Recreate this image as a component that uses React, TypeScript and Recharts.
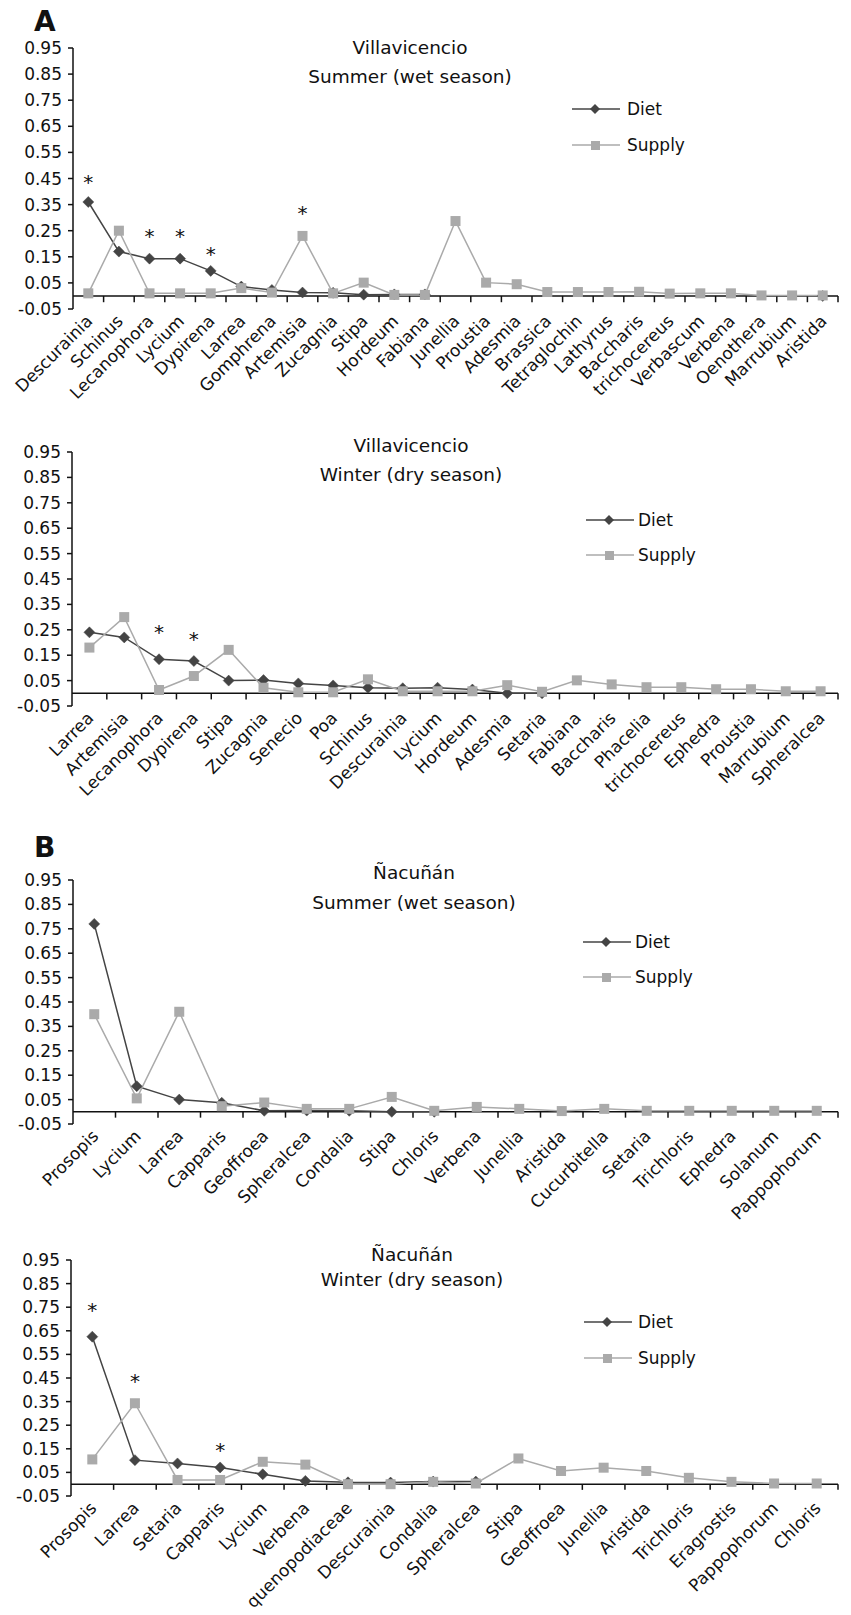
import React from 'react';
import { LineChart, Line, XAxis, YAxis, ReferenceLine, Legend } from 'recharts';

const FONT = '"DejaVu Sans", sans-serif';
const DIET_COLOR = '#444444';
const SUPPLY_COLOR = '#aaaaaa';
const INK = '#111111';

const Y_TICKS = [-0.05, 0.05, 0.15, 0.25, 0.35, 0.45, 0.55, 0.65, 0.75, 0.85, 0.95];

// ---------- Panel A, summer ----------
const A_SUM_SITE = 'Villavicencio';
const A_SUM_SEASON = 'Summer (wet season)';
const A_SUM_CATS = ['Descurainia', 'Schinus', 'Lecanophora', 'Lycium', 'Dypirena', 'Larrea', 'Gomphrena', 'Artemisia', 'Zucagnia', 'Stipa', 'Hordeum', 'Fabiana', 'Junellia', 'Proustia', 'Adesmia', 'Brassica', 'Tetraglochin', 'Lathyrus', 'Baccharis', 'trichocereus', 'Verbascum', 'Verbena', 'Oenothera', 'Marrubium', 'Aristida'];
const A_SUM_DIET = [0.36, 0.17, 0.143, 0.143, 0.096, 0.036, 0.023, 0.013, 0.012, 0.005, 0.006, 0.006, null, null, null, null, null, null, null, null, null, null, null, null, 0.0];
const A_SUM_SUPPLY = [0.01, 0.25, 0.01, 0.01, 0.01, 0.03, 0.013, 0.23, 0.01, 0.051, 0.004, 0.004, 0.287, 0.051, 0.045, 0.015, 0.015, 0.015, 0.016, 0.009, 0.01, 0.01, 0.002, 0.002, 0.002];
const A_SUM_STAR_CATS = ['Descurainia', 'Lecanophora', 'Lycium', 'Dypirena', 'Artemisia'];
const A_SUM_STAR_LEVELS = [0.452, 0.245, 0.245, 0.176, 0.333];

// ---------- Panel A, winter ----------
const A_WIN_SITE = 'Villavicencio';
const A_WIN_SEASON = 'Winter (dry season)';
const A_WIN_CATS = ['Larrea', 'Artemisia', 'Lecanophora', 'Dypirena', 'Stipa', 'Zucagnia', 'Senecio', 'Poa', 'Schinus', 'Descurainia', 'Lycium', 'Hordeum', 'Adesmia', 'Setaria', 'Fabiana', 'Baccharis', 'Phacelia', 'trichocereus', 'Ephedra', 'Proustia', 'Marrubium', 'Spheralcea'];
const A_WIN_DIET = [0.24, 0.22, 0.134, 0.127, 0.05, 0.052, 0.039, 0.031, 0.022, 0.02, 0.022, 0.015, 0.0, 0.0, null, null, null, null, null, null, null, null];
const A_WIN_SUPPLY = [0.18, 0.3, 0.013, 0.068, 0.171, 0.022, 0.004, 0.004, 0.055, 0.008, 0.008, 0.008, 0.032, 0.006, 0.051, 0.035, 0.024, 0.024, 0.016, 0.016, 0.008, 0.008];
const A_WIN_STAR_CATS = ['Lecanophora', 'Dypirena'];
const A_WIN_STAR_LEVELS = [0.257, 0.23];

// ---------- Panel B, summer ----------
const B_SUM_SITE = 'Ñacuñán';
const B_SUM_SEASON = 'Summer (wet season)';
const B_SUM_CATS = ['Prosopis', 'Lycium', 'Larrea', 'Capparis', 'Geoffroea', 'Spheralcea', 'Condalia', 'Stipa', 'Chloris', 'Verbena', 'Junellia', 'Aristida', 'Cucurbitella', 'Setaria', 'Trichloris', 'Ephedra', 'Solanum', 'Pappophorum'];
const B_SUM_DIET = [0.77, 0.105, 0.05, 0.037, 0.004, 0.005, 0.004, 0.0, 0.0, null, null, null, null, null, null, null, null, null];
const B_SUM_SUPPLY = [0.4, 0.055, 0.41, 0.023, 0.038, 0.012, 0.012, 0.061, 0.004, 0.02, 0.012, 0.003, 0.012, 0.004, 0.004, 0.004, 0.004, 0.004];
const B_SUM_STAR_CATS: string[] = [];
const B_SUM_STAR_LEVELS: number[] = [];

// ---------- Panel B, winter ----------
const B_WIN_SITE = 'Ñacuñán';
const B_WIN_SEASON = 'Winter (dry season)';
const B_WIN_CATS = ['Prosopis', 'Larrea', 'Setaria', 'Capparis', 'Lycium', 'Verbena', 'quenopodiaceae', 'Descurainia', 'Condalia', 'Spheralcea', 'Stipa', 'Geoffroea', 'Junellia', 'Aristida', 'Trichloris', 'Eragrostis', 'Pappophorum', 'Chloris'];
const B_WIN_DIET = [0.625, 0.102, 0.088, 0.071, 0.042, 0.014, 0.008, 0.007, 0.011, 0.011, null, null, null, null, null, null, null, null];
const B_WIN_SUPPLY = [0.105, 0.343, 0.018, 0.018, 0.095, 0.083, 0.0, 0.0, 0.01, 0.003, 0.109, 0.056, 0.07, 0.056, 0.027, 0.01, 0.003, 0.003];
const B_WIN_STAR_CATS = ['Prosopis', 'Larrea', 'Capparis'];
const B_WIN_STAR_LEVELS = [0.755, 0.455, 0.162];

type Row = { pos: number; name: string; diet: number | null; supply: number | null; star: number | null };

function buildRows(cats: string[], diet: (number | null)[], supply: (number | null)[], starCats: string[], starLevels: number[]): Row[] {
  return cats.map((name, i) => {
    const si = starCats.indexOf(name);
    return { pos: i + 0.5, name, diet: diet[i], supply: supply[i], star: si >= 0 ? starLevels[si] : null };
  });
}

type Layout = {
  top: number; height: number; plotTop: number; plotBottom: number; plotLeft: number; plotRight: number;
  legendX: number; legendTextX: number; dietY: number; supplyY: number;
  titleX: number; title1Y: number; title2Y: number; letter?: string; letterY?: number;
};

const DietDot = (props: any) => {
  const { cx, cy, value, index } = props;
  if (value == null || cy == null || isNaN(cy)) return <g key={`d${index}`} />;
  const r = 5.5;
  return <polygon key={`d${index}`} points={`${cx},${cy - r} ${cx + r},${cy} ${cx},${cy + r} ${cx - r},${cy}`} fill={DIET_COLOR} stroke={DIET_COLOR} strokeWidth={0.5} />;
};

const SupplyDot = (props: any) => {
  const { cx, cy, value, index } = props;
  if (value == null || cy == null || isNaN(cy)) return <g key={`s${index}`} />;
  const h = 5;
  return <rect key={`s${index}`} x={cx - h} y={cy - h} width={2 * h} height={2 * h} fill={SUPPLY_COLOR} />;
};

const StarDot = (props: any) => {
  const { cx, cy, value, index } = props;
  if (value == null || cy == null || isNaN(cy)) return <g key={`t${index}`} />;
  return (
    <text key={`t${index}`} x={cx} y={cy + 11} textAnchor="middle" fontSize={20} fontFamily={FONT} fill={INK}>*</text>
  );
};

function makeTick(cats: string[]) {
  return (props: any) => {
    const { x, y, payload } = props;
    const name = cats[Math.floor(payload.value)];
    const ax = x + 1;
    const ay = y + 9;
    return (
      <text x={ax} y={ay} dy="0.35em" textAnchor="end" transform={`rotate(-45, ${ax}, ${ay})`} fontSize={17} fontFamily={FONT} fill={INK}>
        {name}
      </text>
    );
  };
}

function makeLegend(L: Layout) {
  const gap = L.supplyY - L.dietY;
  const tx = L.legendTextX - L.legendX;
  return () => (
    <svg width={140} height={gap + 30} style={{ overflow: 'visible' }}>
      <line x1={0} y1={15} x2={48} y2={15} stroke={DIET_COLOR} strokeWidth={1.5} />
      <polygon points={`23,10 28,15 23,20 18,15`} fill={DIET_COLOR} />
      <text x={tx} y={15} dy="0.36em" fontSize={17} fontFamily={FONT} fill={INK}>Diet</text>
      <line x1={0} y1={15 + gap} x2={48} y2={15 + gap} stroke={SUPPLY_COLOR} strokeWidth={1.5} />
      <rect x={19} y={11 + gap} width={9} height={9} fill={SUPPLY_COLOR} />
      <text x={tx} y={15 + gap} dy="0.36em" fontSize={17} fontFamily={FONT} fill={INK}>Supply</text>
    </svg>
  );
}

const X_AXIS_H = 80;
const TICK_LEN = 0.024;

function Panel({ L, cats, rows, site, season }: { L: Layout; cats: string[]; rows: Row[]; site: string; season: string }) {
  const n = cats.length;
  const bounds = Array.from({ length: n }, (_, k) => k + 1);
  const plotBottomLocal = L.plotBottom - L.top;
  const margin = {
    top: L.plotTop - L.top,
    bottom: L.height - plotBottomLocal - X_AXIS_H,
    left: L.plotLeft - 60,
    right: 851 - L.plotRight,
  };
  const titleStyle: React.CSSProperties = {
    position: 'absolute', left: L.titleX, transform: 'translate(-50%, -50%)', fontFamily: FONT, fontSize: 18.5,
    lineHeight: 1, whiteSpace: 'nowrap', color: INK,
  };
  return (
    <>
      <div style={{ position: 'absolute', left: 0, top: L.top, width: 851, height: L.height }}>
        <LineChart width={851} height={L.height} data={rows} margin={margin} style={{ overflow: 'visible' }}>
          <XAxis
            type="number"
            dataKey="pos"
            domain={[0, n]}
            ticks={rows.map((r) => r.pos)}
            interval={0}
            allowDataOverflow
            axisLine={false}
            tickLine={false}
            tickSize={0}
            tickMargin={0}
            height={X_AXIS_H}
            tick={makeTick(cats)}
          />
          <YAxis
            type="number"
            domain={[-0.05, 0.95]}
            ticks={Y_TICKS}
            interval={0}
            allowDataOverflow
            width={60}
            tickSize={5}
            tickMargin={6}
            axisLine={{ stroke: INK, strokeWidth: 1.5 }}
            tickLine={{ stroke: INK, strokeWidth: 1.5 }}
            tick={{ fontSize: 17, fontFamily: FONT, fill: INK }}
            tickFormatter={(v: number) => v.toFixed(2)}
          />
          <ReferenceLine y={0} stroke={INK} strokeWidth={1.5} />
          {bounds.map((k) => (
            <ReferenceLine key={`b${k}`} segment={[{ x: k, y: 0 }, { x: k, y: -TICK_LEN }]} stroke={INK} strokeWidth={1.5} />
          ))}
          <Legend layout="vertical" align="center" verticalAlign="middle"
            wrapperStyle={{ left: L.legendX, top: L.dietY - L.top - 15, width: 140 }}
            content={makeLegend(L)} />
          <Line dataKey="diet" stroke={DIET_COLOR} strokeWidth={1.5} dot={DietDot} activeDot={false} isAnimationActive={false} connectNulls={false} />
          <Line dataKey="supply" stroke={SUPPLY_COLOR} strokeWidth={1.5} dot={SupplyDot} activeDot={false} isAnimationActive={false} />
          <Line dataKey="star" stroke="none" dot={StarDot} activeDot={false} isAnimationActive={false} legendType="none" />
        </LineChart>
      </div>
      <div style={{ ...titleStyle, top: L.title1Y }}>{site}</div>
      <div style={{ ...titleStyle, top: L.title2Y }}>{season}</div>
      {L.letter ? (
        <div style={{ position: 'absolute', left: 34, top: L.letterY, fontFamily: FONT, fontWeight: 'bold', fontSize: 28, lineHeight: 1, color: INK }}>
          {L.letter}
        </div>
      ) : null}
    </>
  );
}

const L1: Layout = { top: 0, height: 420, plotTop: 48, plotBottom: 309, plotLeft: 73, plotRight: 838, legendX: 572, legendTextX: 627, dietY: 109, supplyY: 145, titleX: 410, title1Y: 48, title2Y: 77, letter: 'A', letterY: 8 };
const L2: Layout = { top: 420, height: 400, plotTop: 452, plotBottom: 706, plotLeft: 72, plotRight: 838, legendX: 586, legendTextX: 638, dietY: 520, supplyY: 555, titleX: 411, title1Y: 446, title2Y: 475 };
const L3: Layout = { top: 820, height: 430, plotTop: 880, plotBottom: 1124, plotLeft: 73, plotRight: 838, legendX: 583, legendTextX: 635, dietY: 942, supplyY: 977, titleX: 414, title1Y: 873, title2Y: 903, letter: 'B', letterY: 834 };
const L4: Layout = { top: 1220, height: 395, plotTop: 1260, plotBottom: 1496, plotLeft: 71, plotRight: 838, legendX: 584, legendTextX: 638, dietY: 1322, supplyY: 1358, titleX: 412, title1Y: 1255, title2Y: 1280 };

export default function App() {
  const r1 = buildRows(A_SUM_CATS, A_SUM_DIET, A_SUM_SUPPLY, A_SUM_STAR_CATS, A_SUM_STAR_LEVELS);
  const r2 = buildRows(A_WIN_CATS, A_WIN_DIET, A_WIN_SUPPLY, A_WIN_STAR_CATS, A_WIN_STAR_LEVELS);
  const r3 = buildRows(B_SUM_CATS, B_SUM_DIET, B_SUM_SUPPLY, B_SUM_STAR_CATS, B_SUM_STAR_LEVELS);
  const r4 = buildRows(B_WIN_CATS, B_WIN_DIET, B_WIN_SUPPLY, B_WIN_STAR_CATS, B_WIN_STAR_LEVELS);
  return (
    <div style={{ position: 'absolute', left: 0, top: 0, width: 851, height: 1615, background: '#fff', overflow: 'hidden' }}>
      <Panel L={L1} cats={A_SUM_CATS} rows={r1} site={A_SUM_SITE} season={A_SUM_SEASON} />
      <Panel L={L2} cats={A_WIN_CATS} rows={r2} site={A_WIN_SITE} season={A_WIN_SEASON} />
      <Panel L={L3} cats={B_SUM_CATS} rows={r3} site={B_SUM_SITE} season={B_SUM_SEASON} />
      <Panel L={L4} cats={B_WIN_CATS} rows={r4} site={B_WIN_SITE} season={B_WIN_SEASON} />
    </div>
  );
}
